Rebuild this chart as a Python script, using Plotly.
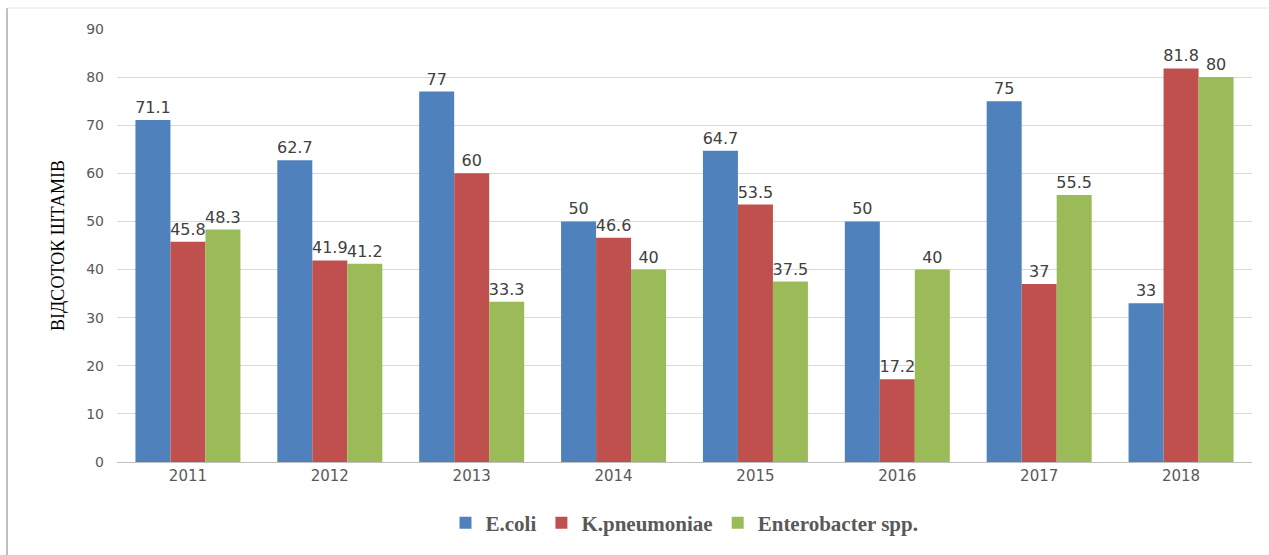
import plotly.graph_objects as go

years = ["2011", "2012", "2013", "2014", "2015", "2016", "2017", "2018"]
ecoli = [71.1, 62.7, 77, 50, 64.7, 50, 75, 33]
kpneumoniae = [45.8, 41.9, 60, 46.6, 53.5, 17.2, 37, 81.8]
enterobacter = [48.3, 41.2, 33.3, 40, 37.5, 40, 55.5, 80]

series = [
    ("E.coli", ecoli, "#4F81BD"),
    ("K.pneumoniae", kpneumoniae, "#C0504D"),
    ("Enterobacter spp.", enterobacter, "#9BBB59"),
]

W, H = 1269, 555
L, R, T, B = 117, 17, 29, 93
pw, ph = W - L - R, H - T - B


def px_x(x):
    return (x - L) / pw


def px_y(y):
    return (H - B - y) / ph


fig = go.Figure()
for name, vals, color in series:
    fig.add_trace(go.Bar(
        name=name,
        x=years,
        y=vals,
        marker=dict(color=color, line=dict(width=0)),
        text=[f"{v:g}" for v in vals],
        textposition="outside",
        constraintext="none",
        cliponaxis=False,
        textfont=dict(family="DejaVu Sans", size=16, color="#404040"),
    ))

fig.update_layout(
    width=W,
    height=H,
    margin=dict(l=L, r=R, t=T, b=B),
    paper_bgcolor="white",
    plot_bgcolor="white",
    barmode="group",
    bargap=0.26,
    bargroupgap=0,
    showlegend=True,
    legend=dict(
        orientation="h",
        x=0.5,
        xanchor="center",
        y=px_y(523),
        yanchor="middle",
        font=dict(family="Liberation Serif", size=21, color="#595959", weight="bold"),
        itemwidth=30,
        traceorder="normal",
    ),
    xaxis=dict(
        showgrid=False,
        showline=True,
        linecolor="#BFBFBF",
        linewidth=1,
        ticks="",
        tickfont=dict(family="DejaVu Sans", size=15, color="#595959"),
    ),
    yaxis=dict(
        range=[0, 90],
        dtick=10,
        showgrid=True,
        gridcolor="#D9D9D9",
        gridwidth=1,
        zeroline=False,
        showline=False,
        ticks="",
        ticklabelstandoff=12,
        tickfont=dict(family="DejaVu Sans", size=14, color="#595959"),
        title=dict(
            text="Відсоток штамів",
            font=dict(family="Liberation Serif", size=25, color="#000000",
                      variant="all-small-caps"),
            standoff=14,
        ),
    ),
    shapes=[
        dict(type="line", xref="paper", yref="paper",
             x0=px_x(7), x1=px_x(7), y0=px_y(8), y1=px_y(H),
             line=dict(color="#BFBFBF", width=2)),
        dict(type="line", xref="paper", yref="paper",
             x0=px_x(7), x1=px_x(W), y0=px_y(8), y1=px_y(8),
             line=dict(color="#E6E6E6", width=1)),
    ],
)

fig.write_html("out.html")
